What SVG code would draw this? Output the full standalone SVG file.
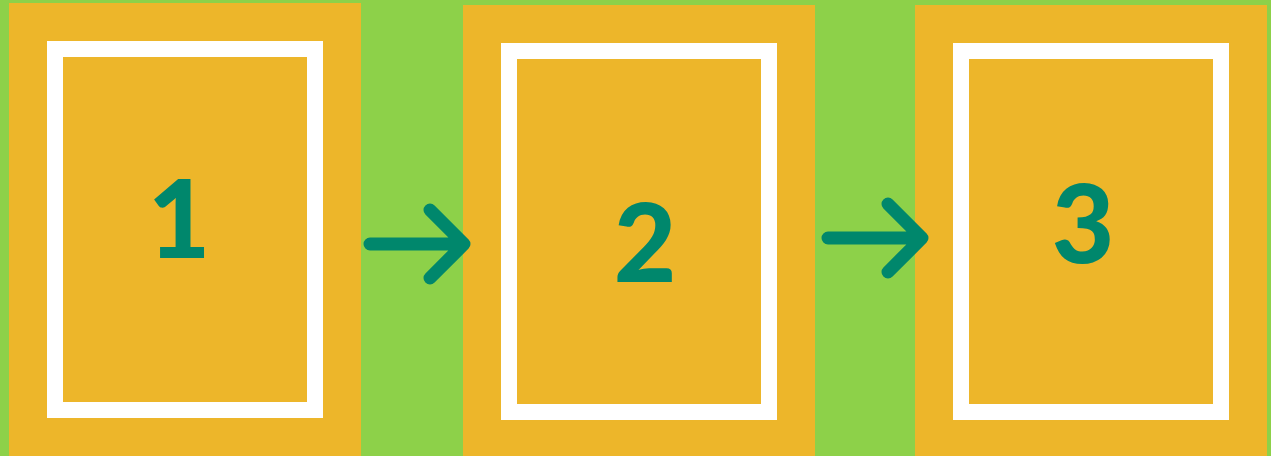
<svg xmlns="http://www.w3.org/2000/svg" width="1271" height="456" viewBox="0 0 1271 456">
<defs>
<style>
.panel{fill:#EDB62A}
.frame{fill:none;stroke:#FFFFFF;stroke-width:16}
.num{font-family:Lato,"DejaVu Sans",sans-serif;font-weight:900;font-size:108px;fill:#00876C;text-anchor:middle}
.arrow{fill:none;stroke:#00876C;stroke-width:13;stroke-linecap:round;stroke-linejoin:round}
</style>
</defs>
<rect x="0" y="0" width="1271" height="456" fill="#8DD149"/>
<g id="node1">
<rect class="panel" x="9" y="3" width="352" height="453"/>
<rect class="frame" x="55" y="49" width="260" height="361"/>
<text class="num" x="179" y="258">1</text>
</g>
<g id="node2">
<rect class="panel" x="463" y="5" width="352" height="451"/>
<rect class="frame" x="509" y="51" width="260" height="361"/>
<text class="num" x="645" y="282">2</text>
</g>
<g id="node3">
<rect class="panel" x="915" y="5" width="352" height="451"/>
<rect class="frame" x="961" y="51" width="260" height="361"/>
<text class="num" x="1083" y="263">3</text>
</g>
<g id="connectors">
<path class="arrow" d="M370 244 H464 M430 210 L464 244 L430 278"/>
<path class="arrow" d="M828 238 H922 M888 204 L922 238 L888 272"/>
</g>
</svg>
